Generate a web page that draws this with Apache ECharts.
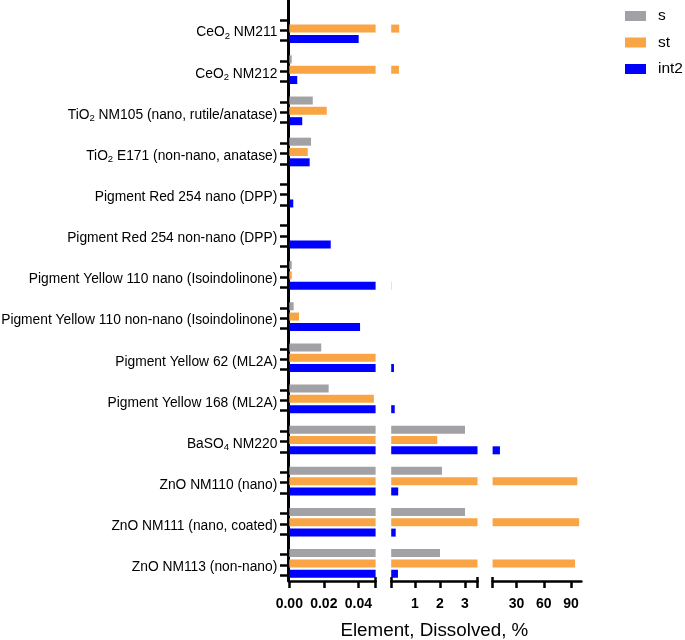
<!DOCTYPE html>
<html>
<head>
<meta charset="utf-8">
<title>Element, Dissolved, %</title>
<script src="https://cdn.jsdelivr.net/npm/echarts@6/dist/echarts.min.js"></script>
<style>html,body{margin:0;padding:0;background:#fff}</style>
</head>
<body>
<div id="main" style="width:685px;height:640px"></div>
<script>
// materials, top to bottom
var categories = [
    'CeO₂ NM211',
    'CeO₂ NM212',
    'TiO₂ NM105 (nano, rutile/anatase)',
    'TiO₂ E171 (non-nano, anatase)',
    'Pigment Red 254 nano (DPP)',
    'Pigment Red 254 non-nano (DPP)',
    'Pigment Yellow 110 nano (Isoindolinone)',
    'Pigment Yellow 110 non-nano (Isoindolinone)',
    'Pigment Yellow 62 (ML2A)',
    'Pigment Yellow 168 (ML2A)',
    'BaSO₄ NM220',
    'ZnO NM110 (nano)',
    'ZnO NM111 (nano, coated)',
    'ZnO NM113 (non-nano)'
];
var seriesNames = ['s', 'st', 'int2'];
var sVals    = [0, 0.0014, 0.0136, 0.0126, 0, 0, 0.0014, 0.0025, 0.0185, 0.0228, 3.0, 2.08, 3.0, 2.0];
var stVals   = [0.37, 0.36, 0.0217, 0.0107, 0, 0, 0.0014, 0.0056, 0.05, 0.049, 1.89, 97, 99, 94.5];
var int2Vals = [0.0402, 0.0046, 0.0075, 0.0118, 0.0023, 0.024, 0.055, 0.041, 0.16, 0.19, 11.6, 0.33, 0.23, 0.32];
var colors = ['#a1a1a6', '#f9a445', '#0000fe'];

// broken x axis: three pieces
var segMin = [0, 0.05, 3.5];
var segMax = [0.05, 3.5, 101.5];
var segTicks = [[0, 0.02, 0.04, 0.05], [0.05, 1, 2, 3, 3.5], [3.5, 30, 60, 90]];
var segLabels = [[0, 0.02, 0.04], [1, 2, 3], [30, 60, 90]];
var segCaps = [[0.05], [0.05, 3.5], [3.5]];   // break marks poke up a little

var allVals = [sVals, stVals, int2Vals];
var FONT = 'Arial, "Liberation Sans", sans-serif';

// layout
var gridTop = 8, gridH = 576, axisY = 581;
var band = gridH / categories.length;
var segLeft = [289.3, 391.2, 492.6];
var segWidth = [86.3, 86.3, 88.8];

function richLabel(str) {
    var out = '', buf = '';
    for (var ch of str) {
        var idx = '₀₁₂₃₄₅'.indexOf(ch);
        if (idx >= 0) {
            if (buf) out += '{n|' + buf + '}';
            buf = '';
            out += '{sub|' + idx + '}';
        } else {
            buf += ch;
        }
    }
    if (buf) out += '{n|' + buf + '}';
    return out;
}

// y-axis ticks sit at each bar
var yTicks = [];
for (var i = 0; i < categories.length; i++) {
    for (var j = 0; j < 3; j++) {
        yTicks.push(i + 0.5 + (j - 1) * 10.32 / band + 1.5 / band);
    }
}

var grids = [], xAxes = [], yAxes = [], series = [];
var off = -(gridTop + gridH - axisY);
for (var k = 0; k < 3; k++) {
    grids.push({left: segLeft[k], width: segWidth[k], top: gridTop, height: gridH, outerBoundsMode: 'none', containLabel: false});
    xAxes.push({
        type: 'value', gridIndex: k, min: segMin[k], max: segMax[k], offset: off, position: 'bottom',
        axisLine: {show: true, lineStyle: {color: '#000', width: 2.5}},
        axisTick: {show: true, length: 7, lineStyle: {color: '#000', width: 2.5}, customValues: segTicks[k]},
        axisLabel: {
            customValues: segLabels[k], margin: 16, fontSize: 14, fontWeight: 'bold', color: '#000', fontFamily: FONT,
            formatter: k === 0 ? function (v) { return v.toFixed(2); } : function (v) { return String(v); }
        },
        splitLine: {show: false},
        name: k === 1 ? 'Element, Dissolved, %' : '',
        nameLocation: 'middle', nameGap: 40,
        nameTextStyle: {fontSize: 18.8, color: '#000', fontFamily: FONT}
    });
    yAxes.push({
        type: 'category', gridIndex: k, data: categories, inverse: true,
        axisLine: {show: false}, axisTick: {show: false},
        axisLabel: {
            show: k === 0, margin: 12, formatter: richLabel, padding: [8, 0, 0, 0],
            rich: {
                n: {fontSize: 13.8, color: '#000', fontFamily: FONT},
                sub: {fontSize: 9.5, color: '#000', fontFamily: FONT, padding: [7, 0, 0, 0]}
            }
        }
    });
    for (var m = 0; m < 3; m++) {
        var lo = segMin[k], hi = segMax[k];
        series.push({
            type: 'bar', name: seriesNames[m], xAxisIndex: k, yAxisIndex: k,
            barWidth: 8, barGap: '29%', clip: true,
            itemStyle: {color: colors[m]},
            data: allVals[m].map(function (v) { return v > lo ? Math.min(v, hi) : '-'; })
        });
    }
}
// short upward marks at the breaks
for (var k = 0; k < 3; k++) {
    xAxes.push({
        type: 'value', gridIndex: k, min: segMin[k], max: segMax[k], offset: off, position: 'bottom',
        axisLine: {show: false},
        axisTick: {show: true, inside: true, length: 4, lineStyle: {color: '#000', width: 2.5}, customValues: segCaps[k]},
        axisLabel: {show: false}, splitLine: {show: false}
    });
}

// vertical axis line with its ticks
grids.push({left: 288, width: 1, top: 0, height: axisY, outerBoundsMode: 'none', containLabel: false});
xAxes.push({type: 'value', gridIndex: 3, show: false, min: 0, max: 1});
yAxes.push({
    type: 'value', gridIndex: 3, inverse: true,
    min: -gridTop / band, max: (axisY - gridTop) / band,
    axisLine: {show: true, lineStyle: {color: '#000', width: 3}},
    axisTick: {show: true, length: 8, lineStyle: {color: '#000', width: 2.5}, customValues: yTicks},
    axisLabel: {show: false}, splitLine: {show: false}
});

var myChart = echarts.init(document.getElementById('main'));
myChart.setOption({
    animation: false,
    backgroundColor: '#fff',
    legend: {
        data: seriesNames, orient: 'vertical', left: 620, top: 3,
        itemWidth: 21, itemHeight: 10, itemGap: 10.5, icon: 'rect', selectedMode: false,
        textStyle: {fontSize: 15.5, lineHeight: 16, color: '#000', fontFamily: FONT, padding: [0, 0, 0, 7]}
    },
    grid: grids,
    xAxis: xAxes,
    yAxis: yAxes,
    series: series
});
</script>
</body>
</html>
